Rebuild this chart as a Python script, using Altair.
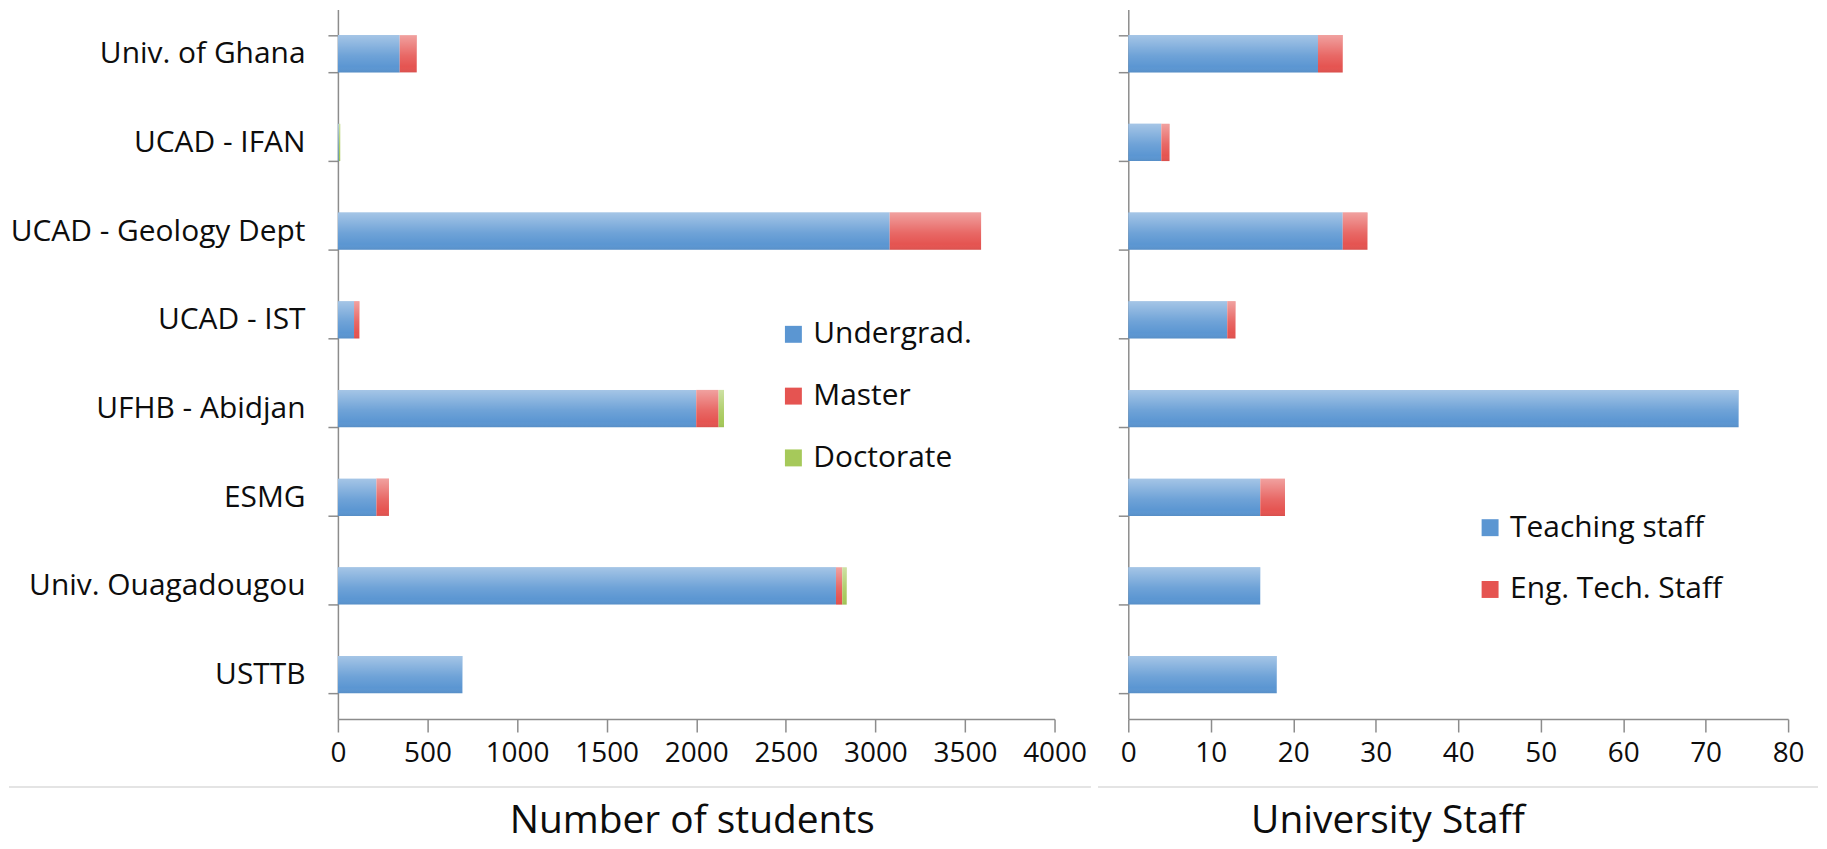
import altair as alt
import pandas as pd

institutions = ["Univ. of Ghana", "UCAD - IFAN", "UCAD - Geology Dept", "UCAD - IST",
                "UFHB - Abidjan", "ESMG", "Univ. Ouagadougou", "USTTB"]
undergrad = [345, 5, 3080, 90, 2000, 215, 2780, 695]
master = [95, 0, 510, 30, 125, 70, 35, 0]
doctorate = [0, 8, 0, 0, 30, 0, 25, 0]
teaching = [23, 4, 26, 12, 74, 16, 16, 18]
eng_tech = [3, 1, 3, 1, 0, 3, 0, 0]

student_levels = ["Undergrad.", "Master", "Doctorate"]
student_colors = ["#5b96d2", "#e55451", "#a6c95a"]
staff_types = ["Teaching staff", "Eng. Tech. Staff"]
staff_colors = ["#5b96d2", "#e55451"]
student_ticks = [0, 500, 1000, 1500, 2000, 2500, 3000, 3500, 4000]
staff_ticks = [0, 10, 20, 30, 40, 50, 60, 70, 80]

rows = []
for i, inst in enumerate(institutions):
    for k, (lvl, vals) in enumerate(zip(student_levels, [undergrad, master, doctorate])):
        rows.append({"institution": inst, "series": lvl, "order": k, "value": vals[i]})
students = pd.DataFrame(rows)

rows = []
for i, inst in enumerate(institutions):
    for k, (typ, vals) in enumerate(zip(staff_types, [teaching, eng_tech])):
        rows.append({"institution": inst, "series": typ, "order": k, "value": vals[i]})
staff = pd.DataFrame(rows)

FONT = "Open Sans"
AXIS_COLOR = "#8c8c8c"
TEXT_COLOR = "#0d0d0d"
PLOT_H = 712
LEFT_W = 719
RIGHT_W = 662

shine = alt.Gradient(
    gradient="linear", x1=0, x2=0, y1=0, y2=1,
    stops=[alt.GradientStop(color="rgba(255,255,255,0.45)", offset=0),
           alt.GradientStop(color="rgba(255,255,255,0.12)", offset=0.55),
           alt.GradientStop(color="rgba(255,255,255,0)", offset=0.85),
           alt.GradientStop(color="rgba(0,0,0,0.06)", offset=1)],
)

y_scale = alt.Scale(domain=institutions, paddingInner=0.58, paddingOuter=0.29)


def panel(df, series_names, colors, ticks, xmax, width, title, title_x, show_labels,
          legend_x, legend_y, rule_left, rule_right):
    y_axis = alt.Axis(
        title=None, labels=show_labels, labelFont=FONT, labelFontSize=30,
        labelColor=TEXT_COLOR, labelPadding=23, tickSize=10, tickBand="extent",
        tickColor=AXIS_COLOR, domainColor=AXIS_COLOR, domainWidth=1.5, tickWidth=1.5,
        grid=False, labelLimit=400,
    )
    x_axis = alt.Axis(
        values=ticks, format="d", grid=False, labelFont=FONT, labelFontSize=28,
        labelColor=TEXT_COLOR, tickSize=13, labelPadding=8, tickColor=AXIS_COLOR,
        domainColor=AXIS_COLOR, domainWidth=1.5, tickWidth=1.5, labelOverlap=False,
        labelFlush=False,
        title=title, titleFont=FONT, titleFontSize=39, titleFontWeight="normal",
        titleColor=TEXT_COLOR, titleX=title_x, titleY=114, titleAlign="center",
        titleBaseline="alphabetic",
    )
    x_scale = alt.Scale(domain=[0, xmax], nice=False)
    bars = alt.Chart(df).mark_bar().encode(
        y=alt.Y("institution:N", sort=institutions, scale=y_scale, axis=y_axis),
        x=alt.X("value:Q", stack="zero", scale=x_scale, axis=x_axis),
        color=alt.Color(
            "series:N",
            scale=alt.Scale(domain=series_names, range=colors),
            legend=alt.Legend(
                title=None, orient="none", legendX=legend_x, legendY=legend_y,
                symbolType="square", symbolSize=289, symbolStrokeWidth=0,
                labelFont=FONT, labelFontSize=30, labelColor=TEXT_COLOR,
                labelOffset=5, rowPadding=32, labelLimit=400,
            ),
        ),
        order=alt.Order("order:Q", sort="ascending"),
    )
    gloss = alt.Chart(df).transform_aggregate(
        total="sum(value)", groupby=["institution"]
    ).mark_bar(color=shine).encode(
        y=alt.Y("institution:N", sort=institutions, scale=y_scale),
        x=alt.X("total:Q", scale=x_scale),
    )
    sep = alt.Chart(df).mark_rule(color="#e4e4e4", strokeWidth=1.5).encode(
        x=alt.value(rule_left), x2=alt.value(width + rule_right), y=alt.value(780)
    )
    return alt.layer(bars, gloss, sep).properties(width=width, height=PLOT_H)


left = panel(students, student_levels, student_colors, student_ticks, 4000, LEFT_W,
             "Number of students", 355, True, 442, 311, -330, 36)
right = panel(staff, staff_types, staff_colors, staff_ticks, 80, RIGHT_W,
              "University Staff", 260, False, 348, 505, -30, 30)

chart = alt.hconcat(left, right, spacing=6).resolve_scale(
    color="independent", x="independent"
).resolve_legend(color="independent").properties(
    padding={"left": 0, "top": -15, "right": 0, "bottom": 12}
).configure(background="white").configure_view(stroke=None)

chart.save("out.html", embed_options={"renderer": "svg", "actions": False})
